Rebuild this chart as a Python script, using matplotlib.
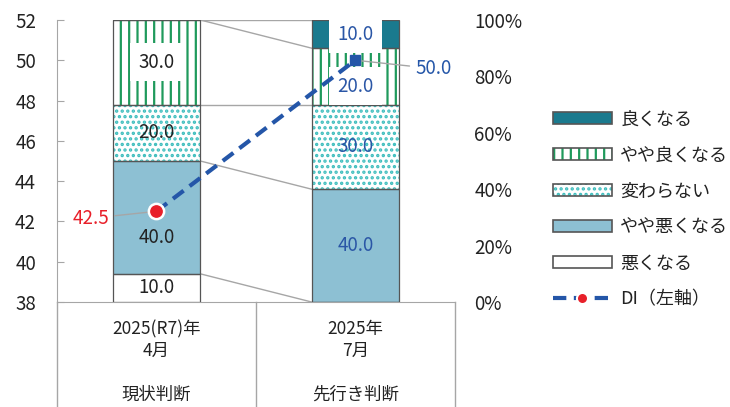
import matplotlib.pyplot as plt
import numpy as np
from matplotlib.lines import Line2D
from matplotlib.patches import Patch
from matplotlib.legend_handler import HandlerTuple

plt.rcParams['font.family'] = ['Noto Sans CJK JP', 'DejaVu Sans']
plt.rcParams['hatch.linewidth'] = 1.6

categories = ['2025(R7)年\n4月\n\n現状判断', '2025年\n7月\n\n先行き判断']

# 積み上げは下から順に
series = ['悪くなる', 'やや悪くなる', '変わらない', 'やや良くなる', '良くなる']
warui = [10.0, 0.0]
yaya_warui = [40.0, 40.0]
kawaranai = [20.0, 30.0]
yaya_yoi = [30.0, 20.0]
yoi = [0.0, 10.0]
values = [warui, yaya_warui, kawaranai, yaya_yoi, yoi]

di = [42.5, 50.0]
di_label = 'DI（左軸）'

pct_ticks = [0, 20, 40, 60, 80, 100]
di_ticks = [38, 40, 42, 44, 46, 48, 50, 52]

# (塗り色, ハッチ, ハッチ色)
styles = {
    '悪くなる': ('white', None, None),
    'やや悪くなる': ('#8dc0d3', None, None),
    '変わらない': ('white', '...', '#3dbdbd'),
    'やや良くなる': ('white', '||', '#1f9a5c'),
    '良くなる': ('#1a7a8e', None, None),
}
edge = '#555555'
grey = '#a6a6a6'
blue = '#2456a8'
red = '#e8202a'
label_colors = ['#222222', '#2a56a6']
boxed = ['やや良くなる', '良くなる']
label_shift = {(0, 'やや悪くなる'): -7.0, (1, 'やや良くなる'): -3.5}

fig = plt.figure(figsize=(7.3, 4.07), dpi=100)
ax = fig.add_axes([0.078, 0.258, 0.545, 0.693])
ax2 = ax.twinx()

x = np.arange(len(categories)) + 0.5
w = 0.44
bottom = np.zeros(len(categories))
bounds = []
for name, vals in zip(series, values):
    vals = np.array(vals)
    fc, hatch, hc = styles[name]
    if hatch:
        ax.bar(x, vals, w, bottom=bottom, color=fc, hatch=hatch,
               edgecolor=hc, linewidth=0, zorder=2)
    else:
        ax.bar(x, vals, w, bottom=bottom, color=fc, linewidth=0, zorder=2)
    ax.bar(x, vals, w, bottom=bottom, fill=False, edgecolor=edge,
           linewidth=0.9, zorder=3)
    for i, v in enumerate(vals):
        if v <= 0:
            continue
        y = bottom[i] + v / 2 + label_shift.get((i, name), 0.0)
        bb = None
        if name in boxed:
            bb = dict(boxstyle='square,pad=0.45', fc='white', ec='none')
        ax.text(x[i], y, f'{v:.1f}', ha='center', va='center',
                fontsize=13.5, color=label_colors[i], bbox=bb, zorder=4)
    bottom = bottom + vals
    bounds.append(bottom.copy())

# 系列線
for b in bounds:
    ax.plot([x[0] + w / 2, x[1] - w / 2], [b[0], b[1]], color=grey,
            lw=1, zorder=1)

ax.set_xlim(0, 2)
ax.set_ylim(0, 100)
ax.yaxis.tick_right()
ax.yaxis.set_label_position('right')
ax.set_yticks(pct_ticks, [f'{t}%' for t in pct_ticks])
ax.tick_params(axis='y', length=0, pad=14, labelsize=13.5, labelcolor='#222222')
ax.set_xticks(x, categories)
ax.tick_params(axis='x', length=0, pad=13, labelsize=12.5, labelcolor='#222222')
for t in ax.get_xticklabels():
    t.set_linespacing(1.27)
for s in ['top', 'right', 'left']:
    ax.spines[s].set_visible(False)
ax.spines['bottom'].set_color(grey)

# 項目欄の区切り線
for xv in [0, 1, 2]:
    ax.plot([xv, xv], [0, -0.4], transform=ax.get_xaxis_transform(),
            clip_on=False, color=grey, lw=1)

ax2.yaxis.tick_left()
ax2.yaxis.set_label_position('left')
ax2.set_ylim(38, 52)
ax2.set_yticks(di_ticks)
ax2.tick_params(axis='y', direction='in', length=5, color=grey, pad=15,
                labelsize=13.5, labelcolor='#222222')
for s in ['top', 'right', 'bottom']:
    ax2.spines[s].set_visible(False)
ax2.spines['left'].set_visible(True)
ax2.spines['left'].set_color(grey)

ax2.plot(x, di, color=blue, lw=3, dashes=[3.2, 1.8], zorder=5)
ax2.plot(x[0], di[0], 'o', ms=11, mfc=red, mec='white', mew=1.8, zorder=6)
ax2.plot(x[1], di[1], 's', ms=7, color=blue, zorder=6)

ax2.annotate(f'{di[0]:.1f}', (x[0], di[0]), xytext=(-34, -5),
             textcoords='offset points', ha='right', va='center',
             fontsize=13.5, color=red,
             arrowprops=dict(arrowstyle='-', color=grey, lw=1,
                             shrinkA=2, shrinkB=5))
ax2.annotate(f'{di[1]:.1f}', (x[1], di[1]), xytext=(43, -6),
             textcoords='offset points', ha='left', va='center',
             fontsize=13.5, color=blue,
             arrowprops=dict(arrowstyle='-', color=grey, lw=1,
                             shrinkA=2, shrinkB=3))

# 凡例（上から 良くなる → 悪くなる → DI）
handles = []
for name in series[::-1]:
    fc, hatch, hc = styles[name]
    if hatch:
        handles.append((Patch(fc=fc, hatch=hatch, ec=hc, lw=0),
                        Patch(fill=False, ec=edge, lw=1.2)))
    else:
        handles.append(Patch(fc=fc, ec=edge, lw=1.2))
handles.append((Line2D([], [], color=blue, lw=3, dashes=[3.2, 1.8]),
                Line2D([], [], ls='none', marker='o', ms=8, mfc=red,
                       mec='white', mew=1.5)))
labels = series[::-1] + [di_label]
fig.legend(handles, labels, loc='upper left', bbox_to_anchor=(0.757, 0.729),
           frameon=False, fontsize=13, handlelength=3.3, handleheight=0.68,
           labelspacing=1.0, handletextpad=0.45, borderpad=0, borderaxespad=0,
           handler_map={tuple: HandlerTuple(ndivide=1)},
           labelcolor='#222222')

fig.savefig('out.png', dpi=100)
